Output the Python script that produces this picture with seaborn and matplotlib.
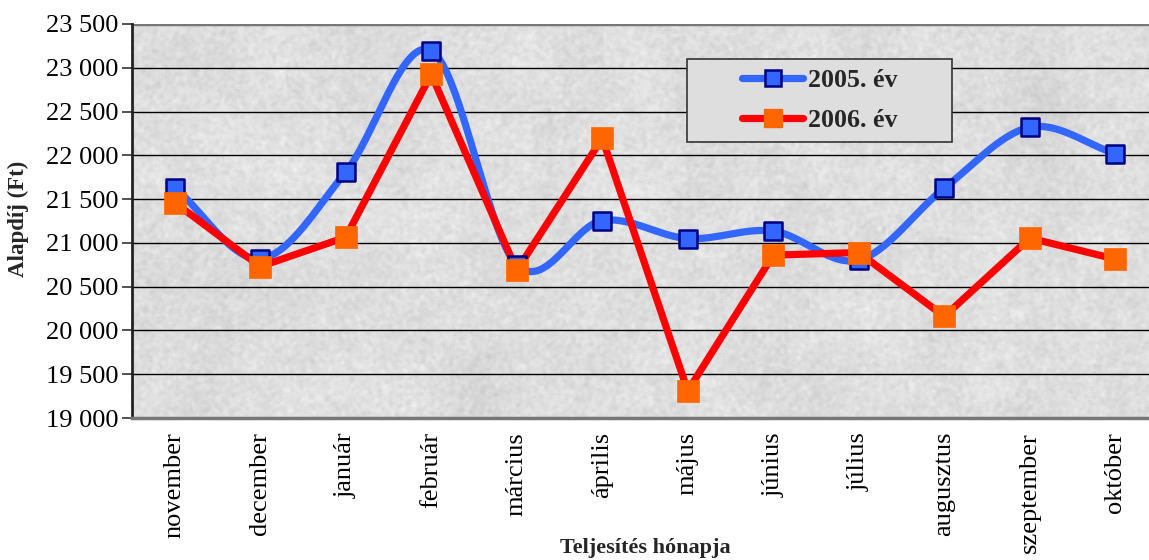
import numpy as np
import pandas as pd
import matplotlib
matplotlib.use("Agg")
import matplotlib.pyplot as plt
from matplotlib.lines import Line2D
from matplotlib.patches import Rectangle
from matplotlib.ticker import FuncFormatter, FixedLocator
import seaborn as sns

months = ["november", "december", "január", "február", "március", "április",
          "május", "június", "július", "augusztus", "szeptember", "október"]
fee_2005 = [21630, 20820, 21810, 23195, 20750, 21255, 21050, 21135, 20805, 21625, 22320, 22020]
fee_2006 = [21460, 20730, 21065, 22925, 20685, 22195, 19310, 20860, 20890, 20160, 21055, 20815]
y_ticks = [19000, 19500, 20000, 20500, 21000, 21500, 22000, 22500, 23000, 23500]

sns.set_theme(style="white")
plt.rcParams["font.family"] = ["Liberation Serif", "DejaVu Serif"]

W, H = 1149, 560
fig = plt.figure(figsize=(W / 100, H / 100), dpi=100)
ax = fig.add_axes([132 / W, 142 / H, 1026 / W, 394 / H])

# granite-like backdrop for the plot area
rng = np.random.default_rng(11)
tex = rng.normal(0, 1, (260, 700))
k = np.ones(3) / 3
tex = np.apply_along_axis(lambda r: np.convolve(r, k, mode="same"), 1, tex)
tex = np.apply_along_axis(lambda c: np.convolve(c, k, mode="same"), 0, tex)
coarse = rng.normal(0, 1, (40, 100))
k2 = np.ones(5) / 5
coarse = np.apply_along_axis(lambda r: np.convolve(r, k2, mode="same"), 1, coarse)
coarse = np.apply_along_axis(lambda c: np.convolve(c, k2, mode="same"), 0, coarse)
coarse = np.kron(coarse, np.ones((7, 7)))[:260, :700]
tex = 0.87 + 0.016 * tex / tex.std() + 0.010 * coarse / coarse.std()
ax.imshow(np.clip(tex, 0, 1), cmap="gray", vmin=0, vmax=1, aspect="auto",
          extent=(-0.5, 11.5, 19000, 23500), zorder=0, interpolation="bilinear")

x = np.arange(len(months))


def catmull_rom(xs, ys, n=30):
    xs = np.asarray(xs, float)
    ys = np.asarray(ys, float)
    px = np.concatenate([[2 * xs[0] - xs[1]], xs, [2 * xs[-1] - xs[-2]]])
    py = np.concatenate([[2 * ys[0] - ys[1]], ys, [2 * ys[-1] - ys[-2]]])
    out_x, out_y = [], []
    for i in range(1, len(px) - 2):
        t = np.linspace(0, 1, n, endpoint=False)
        for arr, out in ((px, out_x), (py, out_y)):
            p0, p1, p2, p3 = arr[i - 1], arr[i], arr[i + 1], arr[i + 2]
            out.extend(0.5 * ((2 * p1) + (-p0 + p2) * t
                              + (2 * p0 - 5 * p1 + 4 * p2 - p3) * t ** 2
                              + (-p0 + 3 * p1 - 3 * p2 + p3) * t ** 3))
    out_x.append(xs[-1])
    out_y.append(ys[-1])
    return np.array(out_x), np.array(out_y)


sx, sy = catmull_rom(x, fee_2005)
smooth = pd.DataFrame({"x": sx, "y": sy})
df05 = pd.DataFrame({"x": x, "y": fee_2005})
df06 = pd.DataFrame({"x": x, "y": fee_2006})

blue, navy = "#3366FF", "#000080"
red, orange = "#FF0000", "#FF6600"

sns.lineplot(data=smooth, x="x", y="y", ax=ax, color=blue, lw=5.2, sort=False,
             zorder=3, solid_capstyle="round")
sns.lineplot(data=df06, x="x", y="y", ax=ax, color=red, lw=5.2, sort=False,
             zorder=4, solid_joinstyle="round")
ax.scatter(df05["x"], df05["y"], marker="s", s=170, c=blue, edgecolors=navy,
           linewidths=1.8, zorder=5)
ax.scatter(df06["x"], df06["y"], marker="s", s=230, c=orange, edgecolors=orange,
           linewidths=0.5, zorder=6)

ax.set_xlim(-0.5, 11.5)
ax.set_ylim(19000, 23500)
ax.yaxis.set_major_locator(FixedLocator(y_ticks))
ax.yaxis.set_major_formatter(FuncFormatter(lambda v, p: f"{int(v):,}".replace(",", " ")))
ax.grid(axis="y", color="black", lw=1.0, zorder=1)
for gl in ax.get_ygridlines():
    gl.set_zorder(1)

ax.set_xticks(x)
ax.set_xticklabels(months, rotation=90, fontsize=19)
ax.set_xticks(np.arange(-0.5, 12, 1), minor=True)
ax.tick_params(axis="x", which="major", length=0, pad=10)
ax.tick_params(axis="x", which="minor", length=6, width=1.2, color="#333333", direction="out")
ax.tick_params(axis="y", length=7, width=1.2, color="#333333", direction="out",
               labelsize=19, pad=3, left=True)
for lab in ax.get_yticklabels() + ax.get_xticklabels():
    lab.set_color("black")

for side in ("top", "right"):
    ax.spines[side].set_visible(False)
ax.spines["left"].set_color("#222222")
ax.spines["left"].set_linewidth(2)
ax.spines["bottom"].set_color("#777777")
ax.spines["bottom"].set_linewidth(2.5)
ax.axhline(23500, color="#777777", lw=2.5, zorder=2)

ax.set_xlabel("")
ax.set_ylabel("")
fig.text(18 / W, 1 - 219 / H, "Alapdíj (Ft)", rotation=90, ha="center", va="center",
         fontsize=16.5, fontweight="bold")
fig.text(645 / W, 1 - 548 / H, "Teljesítés hónapja", ha="center", va="center",
         fontsize=16, fontweight="bold")

# legend box
fig.patches.append(Rectangle((687 / W, 1 - 142 / H), 265 / W, 83 / H,
                             transform=fig.transFigure, facecolor="#DEDEDE",
                             edgecolor="#333333", lw=1.2, zorder=9))
handles = [
    Line2D([0], [0], color=blue, lw=5.2, marker="s", markersize=12,
           markerfacecolor=blue, markeredgecolor=navy, markeredgewidth=1.8,
           solid_capstyle="round"),
    Line2D([0], [0], color=red, lw=5.2, marker="s", markersize=13,
           markerfacecolor=orange, markeredgecolor=orange, solid_capstyle="round"),
]
leg = fig.legend(handles, ["2005. év", "2006. év"], loc="upper left",
                 bbox_to_anchor=(742 / W, 1 - 69 / H),
                 prop={"family": ["Liberation Serif"], "weight": "bold", "size": 18.7},
                 frameon=False, handlelength=2.35, borderpad=0.0,
                 labelspacing=0.65, handletextpad=0.2, borderaxespad=0)
leg.set_zorder(10)

fig.savefig("out.png", dpi=100)
